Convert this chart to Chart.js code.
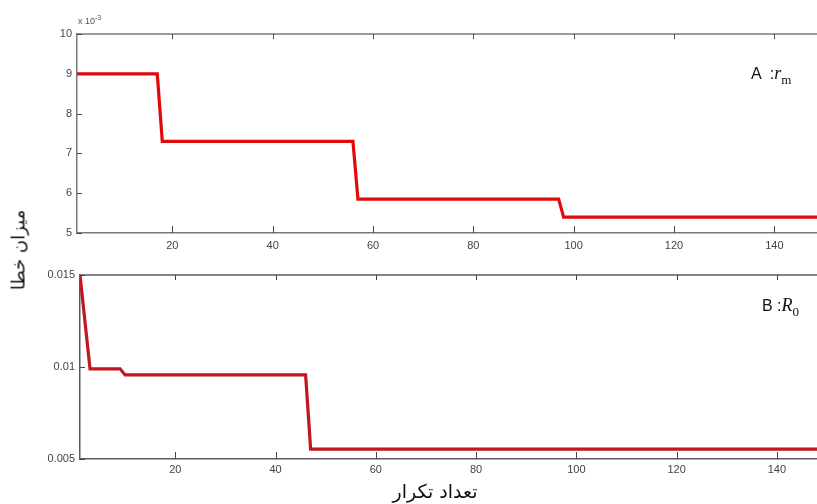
<!DOCTYPE html>
<html>
<head>
<meta charset="utf-8">
<script src="https://cdn.jsdelivr.net/npm/chart.js@4.4.1/dist/chart.umd.min.js"></script>
<style>
  body { margin: 0; background: #fff; width: 817px; height: 504px; overflow: hidden; position: relative; font-family: 'Liberation Sans', Arial, sans-serif; }
  #topWrap { position: absolute; left: 0; top: 0; width: 817px; height: 260px; }
  #botWrap { position: absolute; left: 0; top: 260px; width: 817px; height: 244px; }
  .note { position: absolute; white-space: nowrap; color: #111; }
  .math { font-family: 'Liberation Serif', 'DejaVu Serif', serif; font-style: italic; font-size: 18px; }
  .math sub { font-style: normal; font-size: 13px; }
  #exp { left: 78px; top: 14px; font-size: 9px; color: #555; }
  #exp sup { font-size: 7px; }
  #labA { left: 751px; top: 63px; font-size: 16px; }
  #labB { left: 762px; top: 295px; font-size: 16px; }
  #yTitle { left: 18px; top: 250px; font-size: 18px; font-family: 'DejaVu Sans', sans-serif; transform: translate(-50%, -50%) rotate(-90deg); direction: rtl; }
  #xTitle { left: 435px; top: 491px; font-size: 19px; font-family: 'DejaVu Sans', sans-serif; transform: translate(-50%, -50%); direction: rtl; }
</style>
</head>
<body>
<div id="topWrap"><canvas id="topChart"></canvas></div>
<div id="botWrap"><canvas id="botChart"></canvas></div>
<div class="note" id="exp">x 10<sup>-3</sup></div>
<div class="note" id="labA">A &nbsp;:<span class="math">r<sub>m</sub></span></div>
<div class="note" id="labB">B :<span class="math">R<sub>0</sub></span></div>
<div class="note" id="yTitle">میزان خطا</div>
<div class="note" id="xTitle">تعداد تکرار</div>
<script>
// ============ Data ============
// Panel A: r_m error (x 10^-3) vs iteration
const iterA = [1, 17, 18, 56, 57, 97, 98, 150];
const errA = [9, 9, 7.3, 7.3, 5.85, 5.85, 5.4, 5.4];
// Panel B: R_0 error vs iteration
const iterB = [1, 3, 9, 10, 46, 47, 150];
const errB = [0.015, 0.0099, 0.0099, 0.00957, 0.00957, 0.00554, 0.00554];

const xTicks = [20, 40, 60, 80, 100, 120, 140];
const yTicksA = [5, 6, 7, 8, 9, 10];
const yTicksB = [0.005, 0.01, 0.015];

const tickFont = { family: "'Liberation Sans Narrow', 'Liberation Sans', Arial, sans-serif", size: 11 };

// inward (matlab style) tick marks + top border
const inwardTicks = {
    id: 'inwardTicks',
    beforeDatasetsDraw(chart, args, opts) {
        const { ctx, chartArea: a, scales: { x, y } } = chart;
        ctx.save();
        ctx.strokeStyle = opts.spine;
        ctx.lineWidth = 1.5;
        ctx.beginPath();
        ctx.moveTo(a.left, a.top);
        ctx.lineTo(a.right, a.top);
        ctx.stroke();
        ctx.strokeStyle = opts.color;
        ctx.lineWidth = 1;
        ctx.beginPath();
        x.ticks.forEach((t) => {
            const px = Math.round(x.getPixelForValue(t.value)) + 0.5;
            ctx.moveTo(px, a.bottom);
            ctx.lineTo(px, a.bottom - 7);
            ctx.moveTo(px, a.top);
            ctx.lineTo(px, a.top + 5);
        });
        y.ticks.forEach((t) => {
            const py = Math.round(y.getPixelForValue(t.value)) + 0.5;
            ctx.moveTo(a.left, py);
            ctx.lineTo(a.left + 5, py);
        });
        ctx.stroke();
        ctx.restore();
    }
};

function makeChart(el, xs, ys, color, opt) {
    return new Chart(el, {
        type: 'line',
        data: {
            datasets: [{
                data: xs.map((v, i) => ({ x: v, y: ys[i] })),
                borderColor: color,
                borderWidth: 3.2,
                pointRadius: 0,
                tension: 0,
                fill: false
            }]
        },
        options: {
            responsive: true,
            maintainAspectRatio: false,
            animation: false,
            layout: { padding: { top: opt.padTop, right: 0, left: 0, bottom: 0 } },
            plugins: {
                legend: { display: false },
                tooltip: { enabled: false },
                inwardTicks: { color: '#444', spine: opt.spine }
            },
            scales: {
                x: {
                    type: 'linear',
                    min: opt.xMin,
                    max: opt.xMax,
                    afterBuildTicks: (s) => { s.ticks = xTicks.map((v) => ({ value: v })); },
                    afterFit: (s) => { s.height = opt.xH; },
                    grid: { display: false, drawTicks: false },
                    border: { display: true, color: opt.spine, width: 1.5 },
                    ticks: { color: '#444', font: tickFont, padding: opt.xPad, maxRotation: 0 }
                },
                y: {
                    min: opt.yMin,
                    max: opt.yMax,
                    afterBuildTicks: (s) => { s.ticks = opt.yTicks.map((v) => ({ value: v })); },
                    afterFit: (s) => { s.width = opt.yW; },
                    grid: { display: false, drawTicks: false },
                    border: { display: true, color: opt.spine, width: 1.5 },
                    ticks: { color: '#444', font: tickFont, padding: 5, callback: (v) => String(v) }
                }
            }
        },
        plugins: [inwardTicks]
    });
}

makeChart(document.getElementById('topChart'), iterA, errA, '#e00a0a', {
    padTop: 34, xMin: 1, xMax: 148.5, xH: 27, xPad: 6, yW: 77,
    yMin: 5, yMax: 10, yTicks: yTicksA, spine: '#7a7a7a'
});

makeChart(document.getElementById('botChart'), iterB, errB, '#c2151d', {
    padTop: 15, xMin: 1, xMax: 148, xH: 45, xPad: 4, yW: 80,
    yMin: 0.005, yMax: 0.015, yTicks: yTicksB, spine: '#5a5a5a'
});
</script>
</body>
</html>
